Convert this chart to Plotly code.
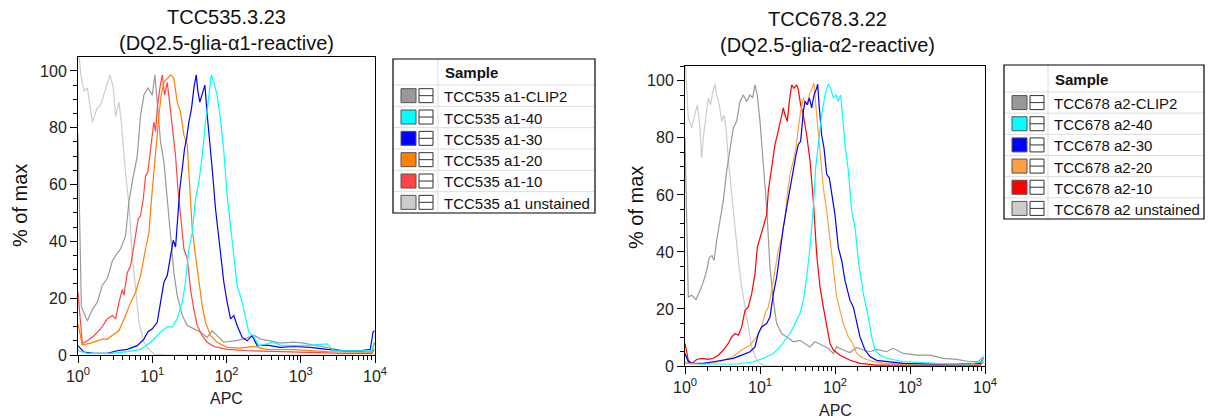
import plotly.graph_objects as go

W, H = 1208, 418
FONT = "Liberation Sans, Arial, sans-serif"

# ---------------- data (x as log10(APC), y as % of max) ----------------
# Left panel: TCC535.3.23
l_names = ["TCC535 a1-CLIP2", "TCC535 a1-40", "TCC535 a1-30", "TCC535 a1-20", "TCC535 a1-10", "TCC535 a1 unstained"]
l_colors = ["#999999", "#00ffff", "#0000ff", "#ff8000", "#ff4444", "#cccccc"]

l_unst_x = [0, 0.036, 0.081, 0.126, 0.193, 0.260, 0.305, 0.372, 0.430, 0.475, 0.507, 0.552, 0.583, 0.641, 0.686,
            0.731, 0.776, 0.821, 0.888, 0.955, 1.022, 1.2, 2.0, 3.0, 4.0]
l_unst_y = [110, 99, 93, 94, 82, 87, 88, 94, 98.6, 94, 84, 89, 82, 64, 53, 35, 23, 11.5, 4.5, 2, 0.3, 0, 0, 0, 0]

l_clip_x = [0, 0.045, 0.126, 0.193, 0.260, 0.327, 0.395, 0.462, 0.507, 0.574, 0.641, 0.686, 0.731, 0.798, 0.843,
            0.888, 0.942, 0.969, 1.000, 1.036, 1.067, 1.112, 1.157, 1.202, 1.247, 1.291, 1.336, 1.404, 1.471, 1.561,
            1.650, 1.740, 1.807, 1.874, 1.964, 2.099, 2.233, 2.368, 2.457, 2.637, 2.726, 2.906, 3.040, 3.175, 3.354,
            3.578, 3.803, 3.960, 3.991]
l_clip_y = [78, 17, 12, 16, 18.6, 24.5, 27, 33, 35, 37.4, 42, 54, 61, 70, 84.5, 91.5, 94, 93, 91.5, 98.6, 88, 75, 68,
            56, 42, 29, 21, 14, 10.4, 9.2, 8, 6.2, 8.6, 6.8, 4.5, 5, 5.6, 7, 5.6, 4.7, 4.2, 4.5, 4.2, 3.5, 2.7, 1.5,
            1.2, 1.5, 4]

l_10_x = [0, 0.058, 0.126, 0.215, 0.305, 0.395, 0.462, 0.507, 0.552, 0.596, 0.619, 0.664, 0.709, 0.762, 0.812, 0.843,
          0.879, 0.910, 0.942, 0.978, 1.022, 1.045, 1.067, 1.103, 1.135, 1.166, 1.202, 1.238, 1.269, 1.314, 1.345,
          1.381, 1.426, 1.471, 1.516, 1.561, 1.605, 1.673, 1.740, 1.830, 2.009, 2.278, 2.682, 3.130, 3.578, 3.960,
          3.991]
l_10_y = [22, 4, 5, 6.8, 9.2, 12.7, 13.9, 12.7, 18.6, 23, 21, 29, 31.5, 39.8, 48, 49, 55, 63, 64.5, 72.7, 82, 78.6,
          86.8, 94, 98.6, 91.5, 96, 88, 79.8, 70, 58.6, 50, 37.4, 34, 23, 16, 10.4, 6.8, 4.5, 3, 2, 1.5, 1.2, 1, 0.6,
          0.6, 2]

l_20_x = [0, 0.058, 0.170, 0.260, 0.327, 0.395, 0.462, 0.552, 0.641, 0.709, 0.776, 0.843, 0.910, 0.955, 0.987, 1.022,
          1.058, 1.090, 1.121, 1.157, 1.202, 1.247, 1.291, 1.336, 1.381, 1.426, 1.471, 1.507, 1.538, 1.583, 1.628,
          1.673, 1.717, 1.785, 1.874, 2.009, 2.188, 2.368, 2.547, 2.906, 3.354, 3.803, 3.960, 3.991]
l_20_y = [11, 3.5, 4.2, 5, 5.6, 5.6, 6.8, 8.6, 13.9, 18.6, 22, 28, 37.4, 43, 54, 65.6, 75, 84.5, 91.5, 96, 97.4,
          98.6, 97.4, 89, 85.6, 77.4, 74, 58.6, 44.5, 35, 25.6, 17.4, 11.5, 6.8, 4.5, 2.7, 2.4, 3, 2, 1.9, 1.2, 1, 1,
          4.5]

l_30_x = [0, 0.081, 0.215, 0.395, 0.529, 0.664, 0.798, 0.888, 0.942, 1.000, 1.067, 1.112, 1.157, 1.202, 1.247, 1.283,
          1.314, 1.345, 1.372, 1.404, 1.435, 1.462, 1.493, 1.529, 1.561, 1.592, 1.614, 1.641, 1.673, 1.709, 1.740,
          1.776, 1.807, 1.852, 1.897, 1.964, 2.009, 2.054, 2.099, 2.143, 2.211, 2.278, 2.345, 2.413, 2.547, 2.726,
          2.906, 3.130, 3.354, 3.578, 3.803, 3.937, 3.973, 3.991]
l_30_y = [3.3, 1, 0.6, 0.6, 1.5, 2, 3.3, 5.6, 8.2, 9.2, 11.5, 18.6, 25.6, 28, 35, 40.4, 38, 49, 58.6, 65.6, 72.7,
          76.2, 82, 86.8, 94, 98.6, 93, 89, 91.5, 95, 84.5, 75, 65.6, 51.5, 41, 25.6, 18.6, 12.7, 13.9, 10.4, 6.2, 5,
          6.8, 3.3, 3.5, 2.7, 3, 2.7, 2, 1.5, 1.5, 2, 8, 8.6]

l_40_x = [0, 0.126, 0.439, 0.664, 0.843, 0.978, 1.112, 1.202, 1.269, 1.336, 1.404, 1.448, 1.493, 1.538, 1.583, 1.628,
          1.673, 1.717, 1.753, 1.794, 1.830, 1.874, 1.919, 1.964, 2.009, 2.054, 2.099, 2.143, 2.211, 2.256, 2.300,
          2.368, 2.435, 2.547, 2.614, 2.726, 2.906, 3.130, 3.354, 3.444, 3.578, 3.803, 3.960, 3.991]
l_40_y = [1.5, 0.6, 0.6, 1.2, 2, 4.5, 8, 10, 9.8, 12.7, 18.6, 25.6, 37.4, 43, 55, 61, 70, 82, 89, 98.6, 96, 91.5, 83,
          71.5, 56, 45.6, 35, 24.5, 18.6, 12.7, 8, 6.6, 3.3, 3.9, 4.5, 3.5, 3.3, 3.5, 3.9, 1.5, 1.5, 1.3, 1.5, 4.5]

# Right panel: TCC678.3.22
r_names = ["TCC678 a2-CLIP2", "TCC678 a2-40", "TCC678 a2-30", "TCC678 a2-20", "TCC678 a2-10", "TCC678 a2 unstained"]
r_colors = ["#999999", "#00ffff", "#0000ff", "#ffa040", "#ff0000", "#cccccc"]

r_unst_x = [0, 0.044, 0.089, 0.133, 0.164, 0.200, 0.222, 0.244, 0.280, 0.311, 0.342, 0.369, 0.400, 0.422, 0.458,
            0.489, 0.520, 0.547, 0.578, 0.622, 0.667, 0.711, 0.756, 0.800, 0.844, 0.889, 0.933, 1.000, 1.089, 1.3,
            2, 3, 4]
r_unst_y = [108, 87, 83.5, 88, 91.6, 83.5, 73, 80, 88, 94, 91.6, 96, 98.8, 95, 91.6, 85.8, 88, 83.5, 72, 60, 48.6,
            37, 27.7, 20.7, 13.7, 6.7, 3.3, 0.9, 0, 0, 0, 0, 0]

r_clip_x = [0, 0.044, 0.089, 0.147, 0.200, 0.244, 0.289, 0.324, 0.360, 0.387, 0.422, 0.467, 0.511, 0.556, 0.600,
            0.644, 0.689, 0.733, 0.778, 0.822, 0.867, 0.902, 0.933, 0.964, 1.000, 1.044, 1.089, 1.133, 1.178, 1.222,
            1.289, 1.356, 1.444, 1.533, 1.600, 1.667, 1.733, 1.822, 1.911, 1.978, 2.022, 2.111, 2.200, 2.289, 2.378,
            2.467, 2.556, 2.689, 2.778, 2.911, 3.089, 3.267, 3.444, 3.622, 3.800, 3.911, 3.978]
r_clip_y = [80, 24.2, 24.8, 23.3, 26.5, 29.4, 33.5, 38, 38.7, 37, 44, 51, 58, 68.4, 76.5, 83.5, 85.8, 92.8, 95, 92.8,
            95, 94, 98.6, 95, 85.8, 69.5, 55.6, 34.6, 23, 14.9, 11.4, 10.2, 8.5, 9, 7.9, 6.7, 8.5, 7.3, 6.2, 4.4,
            6.7, 5.6, 4.7, 6.5, 5.6, 5, 5.8, 5, 6.2, 4.4, 3.8, 3.8, 2.7, 2.3, 1.5, 1.5, 3.3]

r_10_x = [0, 0.044, 0.089, 0.156, 0.222, 0.311, 0.378, 0.444, 0.511, 0.578, 0.622, 0.667, 0.711, 0.756, 0.800, 0.844,
          0.889, 0.933, 0.964, 1.000, 1.044, 1.089, 1.111, 1.156, 1.200, 1.231, 1.267, 1.311, 1.333, 1.364, 1.391,
          1.422, 1.453, 1.489, 1.511, 1.542, 1.578, 1.622, 1.667, 1.711, 1.756, 1.800, 1.844, 1.889, 1.933, 1.978,
          2.067, 2.200, 2.333, 2.556, 2.911, 3.356, 3.933, 3.978]
r_10_y = [7.9, 2, 0.9, 2.3, 2.7, 2.3, 2.7, 3.8, 5.6, 7.9, 10.2, 11.4, 10.8, 13.7, 19.5, 20.7, 25.3, 32.3, 41.6, 45,
          48.6, 53, 61.4, 69.5, 77.7, 81, 85.8, 90.5, 88, 85.8, 92.8, 98.6, 97.4, 98.6, 96.8, 91.6, 88, 81, 72, 58,
          39, 27.7, 20.7, 13.7, 7.9, 5.6, 3.8, 2, 0.9, 0.3, 0.3, 0.3, 0.3, 1.5]

r_20_x = [0, 0.067, 0.244, 0.467, 0.644, 0.756, 0.867, 0.956, 1.022, 1.067, 1.111, 1.156, 1.200, 1.244, 1.289, 1.333,
          1.364, 1.400, 1.444, 1.480, 1.511, 1.542, 1.578, 1.622, 1.658, 1.689, 1.720, 1.747, 1.778, 1.809, 1.844,
          1.889, 1.933, 1.978, 2.022, 2.067, 2.111, 2.178, 2.236, 2.289, 2.378, 2.511, 2.689, 2.911, 3.356, 3.933,
          3.978]
r_20_y = [1.5, 0.7, 0.7, 1.5, 3.3, 5.6, 7.3, 10.2, 13.7, 18.4, 20.7, 26.5, 33.5, 40.5, 45, 52, 60.2, 67.2, 72, 76.5,
          83.5, 89.3, 94, 91.6, 95, 97.4, 99.2, 90.5, 81, 72, 62.6, 54.4, 44, 32.3, 24.2, 19.5, 14.9, 10.2, 7.9, 4.4,
          2.7, 1.5, 0.9, 0.7, 0.7, 0.7, 1.5]

r_30_x = [0, 0.044, 0.089, 0.244, 0.378, 0.511, 0.644, 0.756, 0.867, 0.933, 0.978, 1.022, 1.089, 1.133, 1.178, 1.222,
          1.267, 1.311, 1.356, 1.400, 1.444, 1.480, 1.511, 1.542, 1.578, 1.600, 1.631, 1.658, 1.689, 1.720, 1.756,
          1.769, 1.791, 1.822, 1.853, 1.889, 1.924, 1.969, 2.000, 2.044, 2.089, 2.133, 2.200, 2.244, 2.289, 2.333,
          2.400, 2.467, 2.556, 2.689, 2.911, 3.356, 3.933, 3.978]
r_30_y = [4.4, 1.5, 0.9, 0.9, 1.5, 2, 2.7, 3.8, 5, 6.7, 11.4, 13.7, 14.9, 17.2, 25.3, 31.2, 40.5, 48.6, 55.6, 62.6,
          68.4, 74, 77.7, 78.8, 89.3, 92.8, 91.6, 94, 90.5, 95, 97.4, 98.8, 90.5, 81, 76.5, 67.2, 66, 59, 53, 41.6,
          37, 30, 23, 20.7, 14.9, 10.2, 5.6, 3.3, 2, 1.5, 0.9, 0.7, 0.9, 2.7]

r_40_x = [0, 0.244, 0.689, 0.911, 1.044, 1.178, 1.267, 1.333, 1.400, 1.467, 1.533, 1.578, 1.622, 1.667, 1.711, 1.742,
          1.778, 1.822, 1.867, 1.911, 1.942, 1.978, 2.013, 2.044, 2.076, 2.102, 2.133, 2.178, 2.222, 2.267, 2.311,
          2.378, 2.444, 2.489, 2.533, 2.600, 2.689, 2.911, 3.133, 3.356, 3.800, 3.956, 3.987]
r_40_y = [0.9, 0.7, 0.7, 1.5, 2.7, 4.4, 6.7, 9, 11.4, 14.9, 18.4, 23, 31.2, 41.6, 55.6, 69.5, 78.8, 88, 95, 98.8,
          97.4, 94, 95, 92.8, 95, 88, 77.7, 68.4, 54.4, 48.6, 37, 25.3, 17.2, 10.2, 5.6, 3.8, 2.7, 1.5, 1.2, 0.9,
          0.7, 1.5, 3.3]

x_tickvals = [1, 10, 100, 1000, 10000]
x_ticktext = ["10<sup>0</sup>", "10<sup>1</sup>", "10<sup>2</sup>", "10<sup>3</sup>", "10<sup>4</sup>"]
y_tickvals = [0, 20, 40, 60, 80, 100]

titles = ["TCC535.3.23<br>(DQ2.5-glia-α1-reactive)", "TCC678.3.22<br>(DQ2.5-glia-α2-reactive)"]
y_title = "% of max"
x_title = "APC"
legend_header = "Sample"

# ---------------- figure ----------------
fig = go.Figure()

left_series = [  # draw order (bottom -> top)
    (l_unst_x, l_unst_y, 5), (l_clip_x, l_clip_y, 0), (l_10_x, l_10_y, 4),
    (l_20_x, l_20_y, 3), (l_30_x, l_30_y, 2), (l_40_x, l_40_y, 1),
]
right_series = [
    (r_unst_x, r_unst_y, 5), (r_clip_x, r_clip_y, 0), (r_10_x, r_10_y, 4),
    (r_20_x, r_20_y, 3), (r_30_x, r_30_y, 2), (r_40_x, r_40_y, 1),
]

for xs, ys, i in left_series:
    fig.add_trace(go.Scatter(x=[10 ** v for v in xs], y=ys, mode="lines", name=l_names[i],
                             line=dict(color=l_colors[i], width=1.2), xaxis="x", yaxis="y",
                             showlegend=False))
for xs, ys, i in right_series:
    fig.add_trace(go.Scatter(x=[10 ** v for v in xs], y=ys, mode="lines", name=r_names[i],
                             line=dict(color=r_colors[i], width=1.2), xaxis="x2", yaxis="y2",
                             showlegend=False))

minor_x = [m * 10 ** e for e in range(4) for m in range(2, 10)]


def px(x):
    return x / W


def py(y):
    return 1 - y / H


def xaxis_style(x0, x1, anchor):
    return dict(domain=[px(x0), px(x1)], anchor=anchor, automargin=False, type="log", range=[0, 4],
                tickvals=x_tickvals, ticktext=x_ticktext,
                ticks="outside", ticklen=7, tickwidth=1, tickcolor="#000", showline=True, linecolor="#000",
                linewidth=1, mirror=True, showgrid=False, zeroline=False,
                tickfont=dict(family=FONT, size=16, color="#222"),
                minor=dict(tickvals=minor_x, ticks="outside", ticklen=4, tickcolor="#000", showgrid=False))


def yaxis_style(y0, y1, top, anchor):
    return dict(domain=[py(y1), py(y0)], anchor=anchor, automargin=False, range=[0, top], tickvals=y_tickvals,
                ticks="outside", ticklen=7,
                tickwidth=1, tickcolor="#000", showline=True, linecolor="#000", linewidth=1, mirror=True,
                showgrid=False, zeroline=False, tickfont=dict(family=FONT, size=16, color="#222"),
                minor=dict(dtick=5, ticks="outside", ticklen=4, tickcolor="#000", showgrid=False))


fig.update_layout(
    width=W, height=H, margin=dict(l=0, r=0, t=0, b=0, autoexpand=False), paper_bgcolor="white",
    plot_bgcolor="white", font=dict(family=FONT, color="#000"),
    xaxis=xaxis_style(78, 375, "y"), yaxis=yaxis_style(57, 355, 104.9, "x"),
    xaxis2=xaxis_style(685, 985, "y2"), yaxis2=yaxis_style(66, 366, 105.2, "x2"),
)

ann = []
shapes = []

# titles and axis titles
for t, cx, cy in [(titles[0], 226, 30), (titles[1], 827, 32)]:
    ann.append(dict(text=t, x=px(cx), y=py(cy), xref="paper", yref="paper", showarrow=False,
                    xanchor="center", yanchor="middle", font=dict(family=FONT, size=20, color="#111")))
for cx, cy in [(20, 206), (636, 208)]:
    ann.append(dict(text=y_title, x=px(cx), y=py(cy), xref="paper", yref="paper", showarrow=False, textangle=-90,
                    xanchor="center", yanchor="middle", font=dict(family=FONT, size=20, color="#111")))
for cx, cy in [(226, 398), (835, 410)]:
    ann.append(dict(text=x_title, x=px(cx), y=py(cy), xref="paper", yref="paper", showarrow=False,
                    xanchor="center", yanchor="middle", font=dict(family=FONT, size=16, color="#222")))


def legend_table(x0, y0, x1, y1, div_x, head_h, names, colors):
    n = len(names)
    row_h = (y1 - y0 - head_h) / n
    shapes.append(dict(type="rect", xref="paper", yref="paper", x0=px(x0), x1=px(x1), y0=py(y1), y1=py(y0),
                       line=dict(color="#000", width=1.2), fillcolor="white", layer="above"))
    shapes.append(dict(type="line", xref="paper", yref="paper", x0=px(div_x), x1=px(div_x), y0=py(y1 - 1),
                       y1=py(y0 + 1), line=dict(color="#dddddd", width=1), layer="above"))
    ann.append(dict(text="<b>" + legend_header + "</b>", x=px(div_x + 5), y=py(y0 + head_h / 2 + 1),
                    xref="paper", yref="paper", showarrow=False, xanchor="left", yanchor="middle",
                    font=dict(family=FONT, size=15, color="#111")))
    for i in range(n):
        top = y0 + head_h + i * row_h
        shapes.append(dict(type="line", xref="paper", yref="paper", x0=px(x0 + 1), x1=px(x1 - 1), y0=py(top),
                           y1=py(top), line=dict(color="#dddddd", width=1), layer="above"))
        cy = top + row_h / 2
        sx = x0 + 8
        shapes.append(dict(type="rect", xref="paper", yref="paper", x0=px(sx), x1=px(sx + 15), y0=py(cy + 7),
                           y1=py(cy - 7), line=dict(color="#555", width=1), fillcolor=colors[i], layer="above"))
        ix = sx + 18
        shapes.append(dict(type="rect", xref="paper", yref="paper", x0=px(ix), x1=px(ix + 14), y0=py(cy + 7),
                           y1=py(cy - 7), line=dict(color="#333", width=1), fillcolor="white", layer="above"))
        shapes.append(dict(type="line", xref="paper", yref="paper", x0=px(ix), x1=px(ix + 14), y0=py(cy),
                           y1=py(cy), line=dict(color="#333", width=1), layer="above"))
        ann.append(dict(text=names[i], x=px(div_x + 4), y=py(cy + 1), xref="paper", yref="paper",
                        showarrow=False, xanchor="left", yanchor="middle",
                        font=dict(family=FONT, size=15, color="#111")))


legend_table(393, 59, 595, 213, 438, 26, l_names, l_colors)
legend_table(1004, 65, 1204, 219, 1048, 27, r_names, r_colors)

fig.update_layout(annotations=ann, shapes=shapes)
fig.write_html("out.html", config={"displayModeBar": False},
               post_script="document.body.style.margin='0';document.body.style.overflow='hidden';")
